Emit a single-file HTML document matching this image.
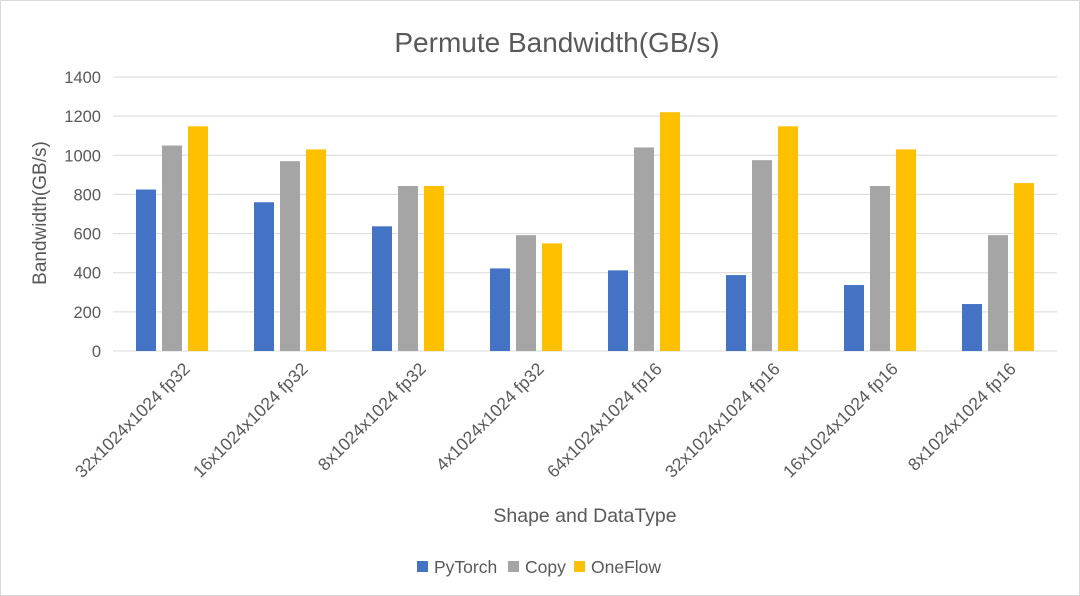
<!DOCTYPE html>
<html><head><meta charset="utf-8"><style>
body{margin:0;background:#fff;}
svg{display:block;font-family:"Liberation Sans",sans-serif;}
</style></head><body>
<svg id="c" width="1080" height="596" viewBox="0 0 1080 596">
<rect x="0.5" y="0.5" width="1079" height="595" fill="#fff" stroke="#d9d9d9"/>
<text x="557" y="52" font-size="28" fill="#595959" text-anchor="middle">Permute Bandwidth(GB/s)</text>
<text transform="translate(46,213) rotate(-90)" font-size="19" fill="#595959" text-anchor="middle">Bandwidth(GB/s)</text>
<text x="585" y="522" font-size="19.5" fill="#595959" text-anchor="middle">Shape and DataType</text>
<g id="grid"></g><g id="bars"></g><g id="labels"></g>
<g>
<rect x="417" y="561" width="11" height="11" fill="#4472c4"/>
<text x="434" y="573" font-size="17.5" fill="#595959">PyTorch</text>
<rect x="508" y="561" width="11" height="11" fill="#a5a5a5"/>
<text x="525" y="573" font-size="17.5" fill="#595959">Copy</text>
<rect x="574" y="561" width="11" height="11" fill="#ffc000"/>
<text x="591" y="573" font-size="17.5" fill="#595959">OneFlow</text>
</g>
</svg>
<script>
const categories=["32x1024x1024 fp32","16x1024x1024 fp32","8x1024x1024 fp32","4x1024x1024 fp32","64x1024x1024 fp16","32x1024x1024 fp16","16x1024x1024 fp16","8x1024x1024 fp16"];
const pytorch=[825,760,637,422,412,388,337,240];
const copy=[1050,970,843,592,1040,975,843,592];
const oneflow=[1148,1030,843,550,1220,1148,1030,858];
const yTicks=[0,200,400,600,800,1000,1200,1400];
const NS="http://www.w3.org/2000/svg";
const x0=113,x1=1057,y0=351,y1=77,ymax=1400;
const yS=v=>y0-(v/ymax)*(y0-y1);
const bw=(x1-x0)/categories.length;
const xC=i=>x0+bw*(i+0.5);
const grid=document.getElementById('grid'),bars=document.getElementById('bars'),labels=document.getElementById('labels');
function mk(t,a,p){const e=document.createElementNS(NS,t);for(const k in a)e.setAttribute(k,a[k]);p.appendChild(e);return e;}
yTicks.forEach(v=>{
 const l=mk('line',{x1:x0,x2:x1,y1:yS(v),y2:yS(v),stroke:'#d9d9d9','stroke-width':1},grid);
 
 
 const t=mk('text',{x:101,y:yS(v)+6,'font-size':16.5,fill:'#595959','text-anchor':'end'},grid);
 t.textContent=v;
 
 
});
const series=[[pytorch,'#4472c4','pytorch'],[copy,'#a5a5a5','copy'],[oneflow,'#ffc000','oneflow']];
categories.forEach((c,i)=>{
 series.forEach((s,j)=>{
  const cx=xC(i)+(j-1)*26;
  const r=mk('rect',{x:cx-10,y:yS(s[0][i]),width:20,height:y0-yS(s[0][i]),fill:s[1]},bars);
  
  
 });
 const tx=xC(i)+19,ty=370;
 const t=mk('text',{x:tx,y:ty,'font-size':17.5,fill:'#595959','text-anchor':'end',transform:`rotate(-45 ${tx} ${ty})`},labels);
 t.textContent=c;
 
 
});
</script>
</body></html>
